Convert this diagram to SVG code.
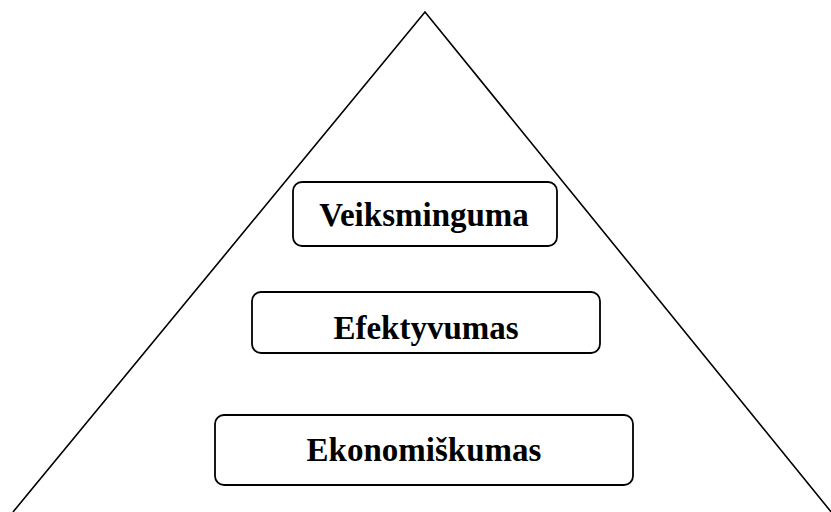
<svg xmlns="http://www.w3.org/2000/svg" width="831" height="512" viewBox="0 0 831 512">
<style>
.box{fill:#fff;stroke:#000;stroke-width:1.8}
.lbl{font-family:"Liberation Serif","Times New Roman",serif;font-weight:bold;font-size:33px;fill:#000;text-anchor:middle}
.edge{fill:none;stroke:#000;stroke-width:1.6}
</style>
<rect width="831" height="512" fill="#fff"/>
<g id="connectors">
<polyline class="edge" points="13,512 425,12 832,513"/>
</g>
<g id="veiksminguma">
<rect class="box" x="293" y="182" width="264" height="64" rx="9"/>
<text class="lbl" x="424" y="226">Veiksminguma</text>
</g>
<g id="efektyvumas">
<rect class="box" x="252" y="292" width="348" height="61" rx="9"/>
<text class="lbl" x="426" y="339">Efektyvumas</text>
</g>
<g id="ekonomiskumas">
<rect class="box" x="215" y="415" width="418" height="70" rx="9"/>
<text class="lbl" x="424" y="461">Ekonomiškumas</text>
</g>
</svg>
